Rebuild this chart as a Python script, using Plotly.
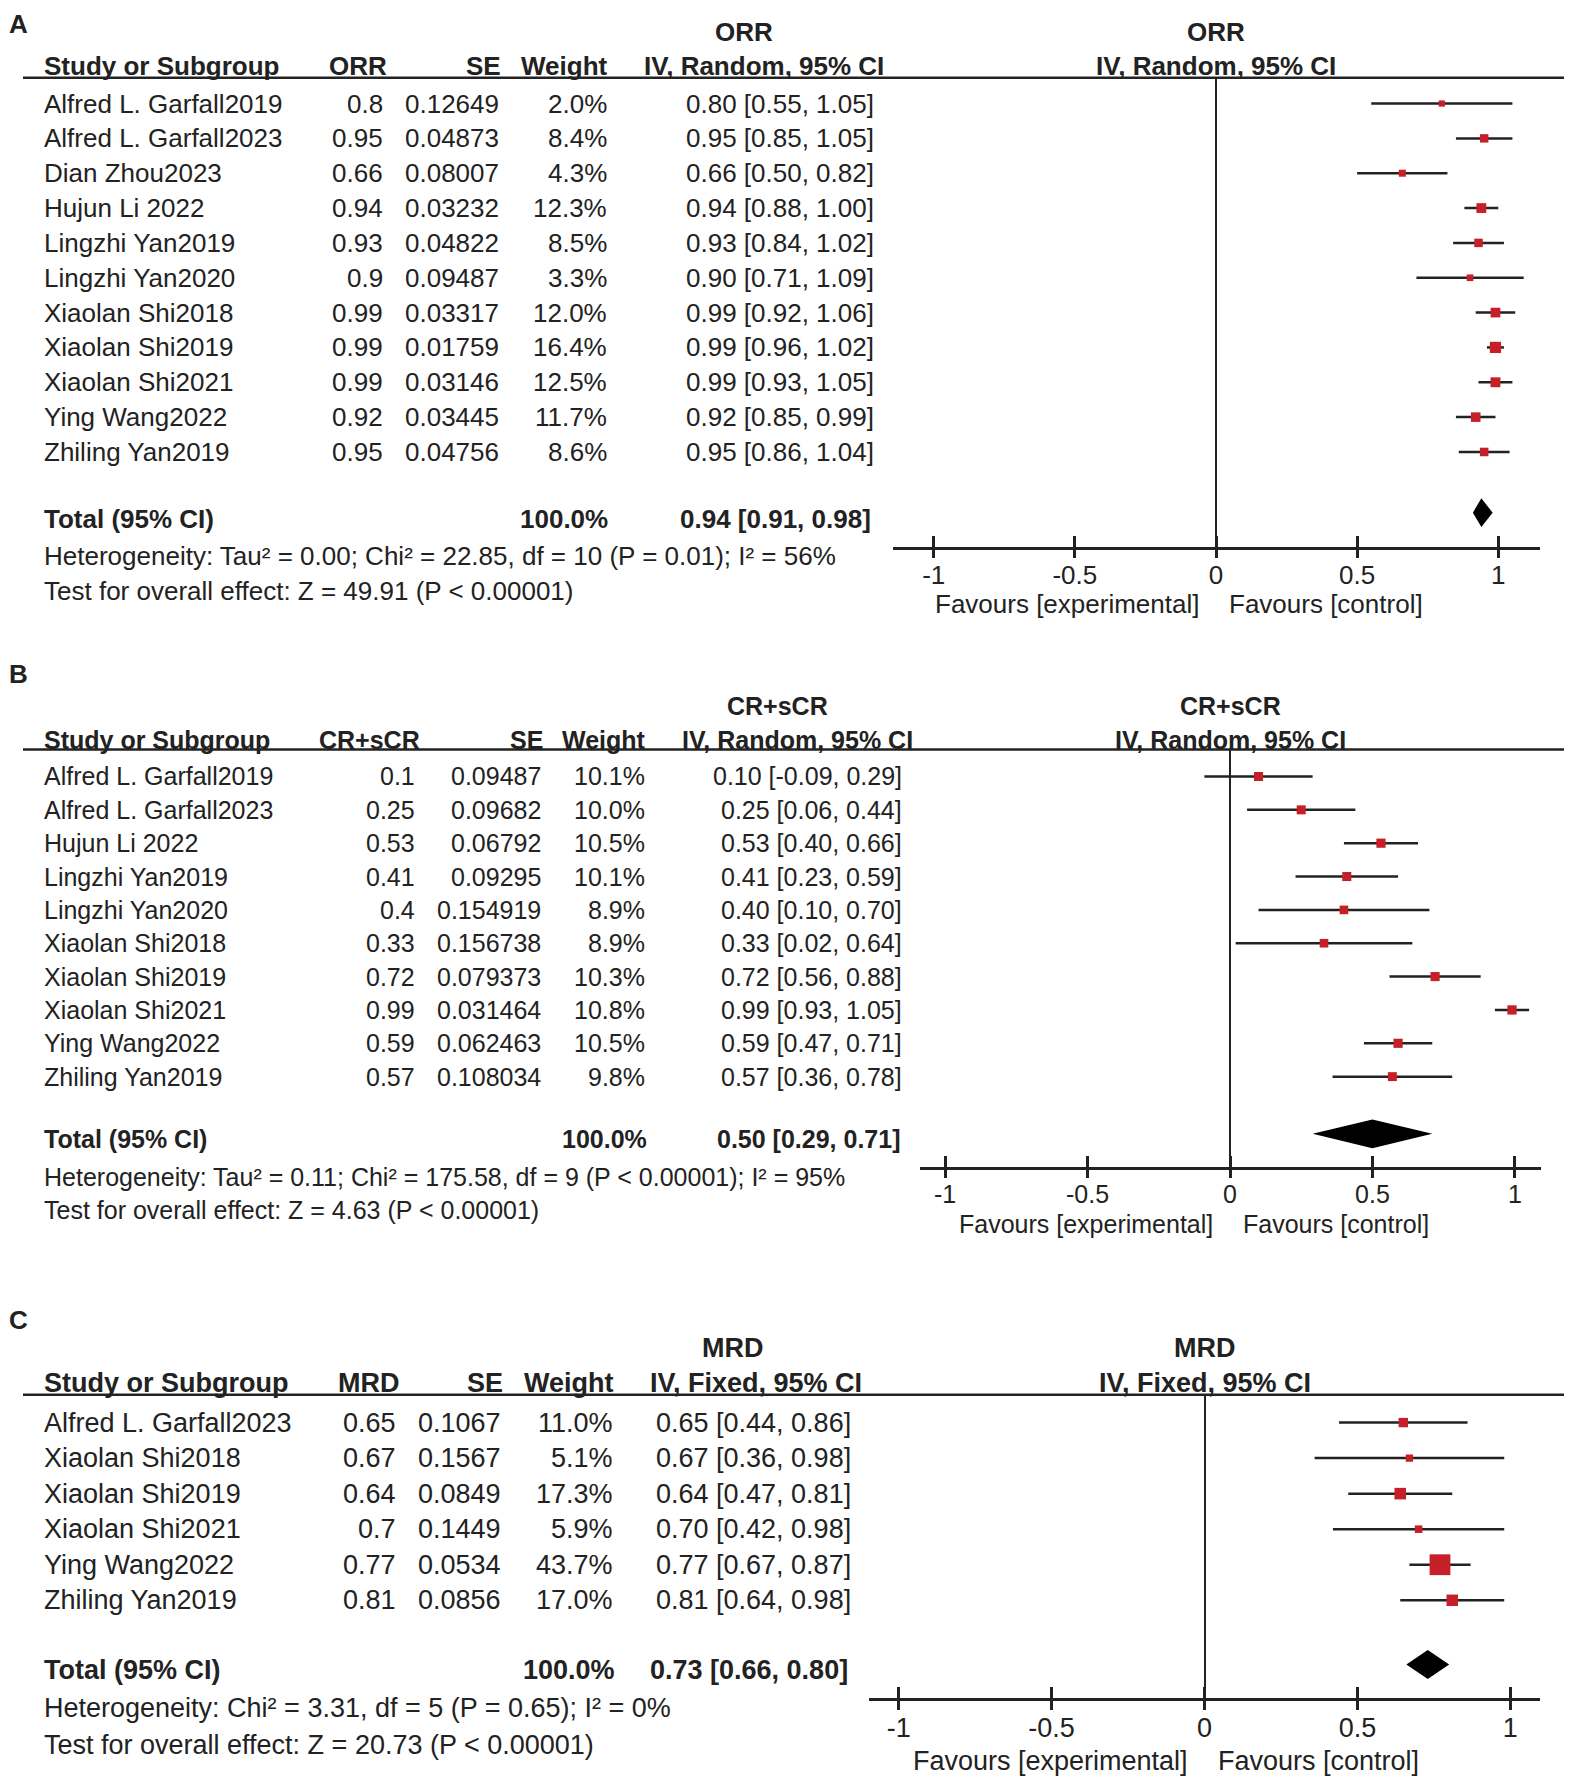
import plotly.graph_objects as go

# page body has an 8px margin; the figure is sized to fit the window
W, H = 1564, 1777
FONT = "Liberation Sans, Arial, sans-serif"
INK = "#222222"
RED = "#c61f27"

# ---------------- Panel A : ORR ----------------
a_studies = ["Alfred L. Garfall2019", "Alfred L. Garfall2023", "Dian Zhou2023", "Hujun Li 2022",
             "Lingzhi Yan2019", "Lingzhi Yan2020", "Xiaolan Shi2018", "Xiaolan Shi2019",
             "Xiaolan Shi2021", "Ying Wang2022", "Zhiling Yan2019"]
a_est = [0.8, 0.95, 0.66, 0.94, 0.93, 0.9, 0.99, 0.99, 0.99, 0.92, 0.95]
a_se = [0.12649, 0.04873, 0.08007, 0.03232, 0.04822, 0.09487, 0.03317, 0.01759, 0.03146, 0.03445, 0.04756]
a_weight = [2.0, 8.4, 4.3, 12.3, 8.5, 3.3, 12.0, 16.4, 12.5, 11.7, 8.6]
a_lo = [0.55, 0.85, 0.50, 0.88, 0.84, 0.71, 0.92, 0.96, 0.93, 0.85, 0.86]
a_hi = [1.05, 1.05, 0.82, 1.00, 1.02, 1.09, 1.06, 1.02, 1.05, 0.99, 1.04]
a_total = [0.94, 0.91, 0.98]
a_total_weight = "100.0%"
a_het = "Heterogeneity: Tau² = 0.00; Chi² = 22.85, df = 10 (P = 0.01); I² = 56%"
a_test = "Test for overall effect: Z = 49.91 (P < 0.00001)"

# ---------------- Panel B : CR+sCR ----------------
b_studies = ["Alfred L. Garfall2019", "Alfred L. Garfall2023", "Hujun Li 2022", "Lingzhi Yan2019",
             "Lingzhi Yan2020", "Xiaolan Shi2018", "Xiaolan Shi2019", "Xiaolan Shi2021",
             "Ying Wang2022", "Zhiling Yan2019"]
b_est = [0.1, 0.25, 0.53, 0.41, 0.4, 0.33, 0.72, 0.99, 0.59, 0.57]
b_se = [0.09487, 0.09682, 0.06792, 0.09295, 0.154919, 0.156738, 0.079373, 0.031464, 0.062463, 0.108034]
b_weight = [10.1, 10.0, 10.5, 10.1, 8.9, 8.9, 10.3, 10.8, 10.5, 9.8]
b_lo = [-0.09, 0.06, 0.40, 0.23, 0.10, 0.02, 0.56, 0.93, 0.47, 0.36]
b_hi = [0.29, 0.44, 0.66, 0.59, 0.70, 0.64, 0.88, 1.05, 0.71, 0.78]
b_total = [0.50, 0.29, 0.71]
b_total_weight = "100.0%"
b_het = "Heterogeneity: Tau² = 0.11; Chi² = 175.58, df = 9 (P < 0.00001); I² = 95%"
b_test = "Test for overall effect: Z = 4.63 (P < 0.00001)"

# ---------------- Panel C : MRD ----------------
c_studies = ["Alfred L. Garfall2023", "Xiaolan Shi2018", "Xiaolan Shi2019", "Xiaolan Shi2021",
             "Ying Wang2022", "Zhiling Yan2019"]
c_est = [0.65, 0.67, 0.64, 0.7, 0.77, 0.81]
c_se = [0.1067, 0.1567, 0.0849, 0.1449, 0.0534, 0.0856]
c_weight = [11.0, 5.1, 17.3, 5.9, 43.7, 17.0]
c_lo = [0.44, 0.36, 0.47, 0.42, 0.67, 0.64]
c_hi = [0.86, 0.98, 0.81, 0.98, 0.87, 0.98]
c_total = [0.73, 0.66, 0.80]
c_total_weight = "100.0%"
c_het = "Heterogeneity: Chi² = 3.31, df = 5 (P = 0.65); I² = 0%"
c_test = "Test for overall effect: Z = 20.73 (P < 0.00001)"

tick_vals = [-1, -0.5, 0, 0.5, 1]
tick_text = ["-1", "-0.5", "0", "0.5", "1"]
fav_left = "Favours [experimental]"
fav_right = "Favours [control]"

# geometry in reference-image pixels
panels = [
    dict(label="A", measure="ORR", method="IV, Random, 95% CI",
         studies=a_studies, est=a_est, se=a_se, w=a_weight, lo=a_lo, hi=a_hi,
         total=a_total, tw=a_total_weight, het=a_het, test=a_test,
         g=dict(fs=26, label_py=21, title_py=32, head_py=66, line_py=78, row1=104, dy=35.0,
                total_py=521, diamond_py=515, het_py=559, test_py=594, axis_py=549, fav_py=607,
                title_x=744, m_head=388, se_head=502, w_head=609, ci_head=764,
                m_r=384, se_r=500, w_r=608, ci_r=875, tw_r=609, tci_r=872,
                x0=892.5, x1=1539.5, xr=1.146)),
    dict(label="B", measure="CR+sCR", method="IV, Random, 95% CI",
         studies=b_studies, est=b_est, se=b_se, w=b_weight, lo=b_lo, hi=b_hi,
         total=b_total, tw=b_total_weight, het=b_het, test=b_test,
         g=dict(fs=25, label_py=677, title_py=709, head_py=743, line_py=753, row1=780, dy=33.5,
                total_py=1144, diamond_py=1139, het_py=1182, test_py=1215, axis_py=1172, fav_py=1230,
                title_x=777, m_head=421, se_head=544, w_head=647, ci_head=797,
                m_r=416, se_r=542, w_r=646, ci_r=903, tw_r=648, tci_r=901,
                x0=919.5, x1=1540.5, xr=1.09)),
    dict(label="C", measure="MRD", method="IV, Fixed, 95% CI",
         studies=c_studies, est=c_est, se=c_se, w=c_weight, lo=c_lo, hi=c_hi,
         total=c_total, tw=c_total_weight, het=c_het, test=c_test,
         g=dict(fs=27, label_py=1326, title_py=1354, head_py=1389, line_py=1401, row1=1429, dy=35.7,
                total_py=1678, diamond_py=1672, het_py=1716, test_py=1753, axis_py=1706, fav_py=1769,
                title_x=733, m_head=401, se_head=504, w_head=615, ci_head=756,
                m_r=397, se_r=502, w_r=614, ci_r=852, tw_r=616, tci_r=849,
                x0=869, x1=1540, xr=1.097)),
]

STUDY_X = 43

fig = go.Figure()
annotations = []
shapes = []
layout_axes = {}


def X(x):
    return x - 8


def Y(y):
    return 0.9955 * y - 8


def px(x):
    return X(x) / W


def py(y):
    return 1 - Y(y) / H


def txt(text, x, y, anchor="left", bold=False, size=26, xref="paper", xshift=0, yanchor="middle"):
    annotations.append(dict(
        text=f"<b>{text}</b>" if bold else text, x=x, y=y, xref=xref, yref="paper",
        xanchor=anchor, yanchor=yanchor, showarrow=False, xshift=xshift, borderpad=0,
        font=dict(family=FONT, size=size, color=INK)))


for i, p in enumerate(panels):
    g = p["g"]
    fs = g["fs"]
    n = len(p["studies"])
    k = "" if i == 0 else str(i + 1)
    ko = str(i + 4)
    rows = list(range(1, n + 1))
    row_py = [g["row1"] + (r - 1) * g["dy"] for r in rows]
    r_top = 1 + (g["line_py"] - g["row1"]) / g["dy"]
    r_bot = 1 + (g["axis_py"] - g["row1"]) / g["dy"]
    r_diam = 1 + (g["diamond_py"] - g["row1"]) / g["dy"]

    # ---- table text ----
    if i == 0:
        txt(p["label"], 0, 1.0, "left", bold=True, size=26, yanchor="top")
    else:
        txt(p["label"], 0, py(g["label_py"]), "left", bold=True, size=26)
    txt(p["measure"], px(g["title_x"]), py(g["title_py"]), "center", bold=True, size=fs)
    txt(p["measure"], 0, py(g["title_py"]), "center", bold=True, xref="x" + k, size=fs)
    txt("Study or Subgroup", px(STUDY_X), py(g["head_py"]), "left", bold=True, size=fs)
    txt(p["measure"], px(g["m_head"]), py(g["head_py"]), "right", bold=True, size=fs)
    txt("SE", px(g["se_head"]), py(g["head_py"]), "right", bold=True, size=fs)
    txt("Weight", px(g["w_head"]), py(g["head_py"]), "right", bold=True, size=fs)
    txt(p["method"], px(g["ci_head"]), py(g["head_py"]), "center", bold=True, size=fs)
    txt(p["method"], 0, py(g["head_py"]), "center", bold=True, xref="x" + k, size=fs)

    for j in range(n):
        yy = py(row_py[j])
        txt(p["studies"][j], px(STUDY_X), yy, "left", size=fs)
        txt(f"{p['est'][j]:g}", px(g["m_r"]), yy, "right", size=fs)
        txt(f"{p['se'][j]:g}", px(g["se_r"]), yy, "right", size=fs)
        txt(f"{p['w'][j]:.1f}%", px(g["w_r"]), yy, "right", size=fs)
        txt(f"{p['est'][j]:.2f} [{p['lo'][j]:.2f}, {p['hi'][j]:.2f}]", px(g["ci_r"]), yy, "right", size=fs)

    te, tl, th = p["total"]
    txt("Total (95% CI)", px(STUDY_X), py(g["total_py"]), "left", bold=True, size=fs)
    txt(p["tw"], px(g["tw_r"]), py(g["total_py"]), "right", bold=True, size=fs)
    txt(f"{te:.2f} [{tl:.2f}, {th:.2f}]", px(g["tci_r"]), py(g["total_py"]), "right", bold=True, size=fs)
    txt(p["het"], px(STUDY_X), py(g["het_py"]), "left", size=fs)
    txt(p["test"], px(STUDY_X), py(g["test_py"]), "left", size=fs)
    txt(fav_left, 0, py(g["fav_py"]), "right", xref="x" + k, xshift=-16, size=fs)
    txt(fav_right, 0, py(g["fav_py"]), "left", xref="x" + k, xshift=12, size=fs)

    shapes.append(dict(type="line", xref="paper", yref="paper", x0=px(23), x1=px(1569),
                       y0=py(g["line_py"]), y1=py(g["line_py"]),
                       line=dict(color=INK, width=2.5)))

    # ---- forest marks ----
    fig.add_trace(go.Scatter(
        x=p["est"], y=rows, mode="markers", xaxis="x" + k, yaxis="y" + k,
        marker=dict(symbol="square", color=RED, opacity=1,
                    size=[5.5 + 0.35 * w for w in p["w"]], line=dict(width=0)),
        error_x=dict(type="data", symmetric=False,
                     array=[h - e for h, e in zip(p["hi"], p["est"])],
                     arrayminus=[e - l for e, l in zip(p["est"], p["lo"])],
                     width=0, thickness=2.5, color=INK),
        hoverinfo="skip", showlegend=False, cliponaxis=False))
    dh = 14.5 / g["dy"]
    fig.add_trace(go.Scatter(
        x=[tl, te, th, te, tl], y=[r_diam, r_diam - dh, r_diam, r_diam + dh, r_diam],
        mode="lines", fill="toself", fillcolor="black", line=dict(width=0, color="black"),
        xaxis="x" + ko, yaxis="y" + k, hoverinfo="skip", showlegend=False))

    xdom = [px(g["x0"]), px(g["x1"])]
    ydom = [py(g["axis_py"]), py(g["line_py"])]
    common_x = dict(range=[-g["xr"], g["xr"]], tickvals=tick_vals, showgrid=False, fixedrange=True)
    layout_axes["xaxis" + k] = dict(
        common_x, domain=xdom, anchor="y" + k, ticktext=tick_text, ticks="outside", ticklen=9,
        tickwidth=2.5, tickcolor=INK, showline=True, linewidth=2.5, linecolor=INK,
        zeroline=True, zerolinecolor=INK, zerolinewidth=2, ticklabelstandoff=-5,
        tickfont=dict(family=FONT, size=fs, color=INK))
    layout_axes["xaxis" + ko] = dict(
        common_x, overlaying="x" + k, anchor="y" + k, ticks="inside", ticklen=11,
        tickwidth=2.5, tickcolor=INK, showticklabels=False, showline=False, zeroline=False)
    layout_axes["yaxis" + k] = dict(domain=ydom, range=[r_bot, r_top], anchor="x" + k,
                                    visible=False, fixedrange=True)

fig.update_layout(
    width=W, height=H, margin=dict(l=0, r=0, t=0, b=0),
    paper_bgcolor="white", plot_bgcolor="rgba(0,0,0,0)",
    annotations=annotations, shapes=shapes, showlegend=False,
    **layout_axes)

fig.write_html("out.html")
